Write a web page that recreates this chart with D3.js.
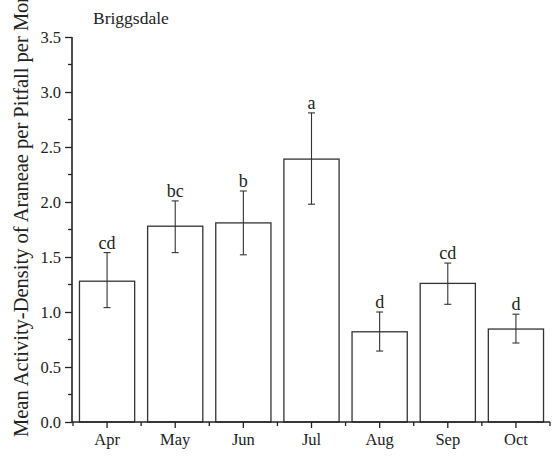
<!DOCTYPE html>
<html><head><meta charset="utf-8">
<script src="https://cdn.jsdelivr.net/npm/d3@7"></script>
<style>body{margin:0;background:#fff;}svg{display:block;}</style>
</head><body>
<script>
const months = ["Apr","May","Jun","Jul","Aug","Sep","Oct"];
const means  = [1.28, 1.78, 1.81, 2.39, 0.82, 1.26, 0.845];
const errLow = [1.04, 1.54, 1.52, 1.98, 0.645, 1.07, 0.718];
const errHigh= [1.54, 2.01, 2.10, 2.81, 1.00, 1.445, 0.98];
const letters= ["cd","bc","b","a","d","cd","d"];
const yTicks = [0,0.5,1.0,1.5,2.0,2.5,3.0,3.5];

const W=557,H=468;
const svg=d3.select("body").append("svg").attr("width",W).attr("height",H);
const font="'Liberation Serif','Times New Roman',serif";
const x=d3.scaleBand().domain(months).range([73,550]).paddingInner(0.19).paddingOuter(0.095);
const y=d3.scaleLinear().domain([0,3.5]).range([422,37]);
const ink="#222";

// bars
svg.selectAll("rect.bar").data(months).join("rect")
  .attr("x",d=>x(d)).attr("width",x.bandwidth())
  .attr("y",(d,i)=>y(means[i])).attr("height",(d,i)=>y(0)-y(means[i]))
  .attr("fill","#fff").attr("stroke","#333").attr("stroke-width",1.3);

// error bars
const cx=d=>x(d)+x.bandwidth()/2;
const g=svg.append("g").attr("stroke","#333").attr("stroke-width",1.1);
months.forEach((m,i)=>{
  g.append("line").attr("x1",cx(m)).attr("x2",cx(m)).attr("y1",y(errLow[i])).attr("y2",y(errHigh[i]));
  [errLow[i],errHigh[i]].forEach(v=>g.append("line").attr("x1",cx(m)-3.5).attr("x2",cx(m)+3.5).attr("y1",y(v)).attr("y2",y(v)));
});
svg.selectAll("text.let").data(months).join("text")
  .attr("x",cx).attr("y",(d,i)=>y(errHigh[i])-4).attr("text-anchor","middle")
  .attr("font-family",font).attr("font-size",18).attr("fill",ink).text((d,i)=>letters[i]);

// y axis
const yAxis=d3.axisLeft(y).tickValues(yTicks).tickFormat(d3.format(".1f")).tickSize(7).tickPadding(4);
const ya=svg.append("g").attr("transform","translate(72,0)").call(yAxis);
const minorY=d3.range(0.25,3.5,0.5);
ya.selectAll("line.minor").data(minorY).join("line").attr("class","minor")
  .attr("x1",-4).attr("x2",0).attr("y1",d=>y(d)).attr("y2",d=>y(d)).attr("stroke",ink).attr("stroke-width",1.3);
ya.select(".domain").attr("d",`M0,${y(0)+0.5}V${y(3.5)}`).attr("stroke",ink).attr("stroke-width",1.6);
ya.selectAll(".tick line").attr("stroke",ink).attr("stroke-width",1.3);
ya.selectAll(".tick text").attr("font-family",font).attr("font-size",16.5).attr("fill",ink);

// x axis
const xAxis=d3.axisBottom(x).tickSize(6).tickPadding(5);
const xa=svg.append("g").attr("transform",`translate(0,${y(0)})`).call(xAxis);
xa.select(".domain").attr("d",`M72,0H550`).attr("stroke",ink).attr("stroke-width",1.6);
xa.selectAll(".tick line").attr("stroke",ink).attr("stroke-width",1.3);
xa.selectAll(".tick text").attr("font-family",font).attr("font-size",16.5).attr("fill",ink);
const bounds=months.map(m=>x(m)-x.step()*x.paddingInner()/2).concat([550]);
xa.selectAll("line.minor").data(bounds).join("line").attr("class","minor")
  .attr("x1",d=>d).attr("x2",d=>d).attr("y1",0).attr("y2",4).attr("stroke",ink).attr("stroke-width",1.3);

// titles
svg.append("text").attr("x",93).attr("y",24).attr("font-family",font).attr("font-size",17.5).attr("fill",ink).text("Briggsdale");
svg.append("text").attr("transform","translate(28,437) rotate(-90)").attr("font-family",font).attr("font-size",20.5).attr("fill",ink)
  .text("Mean Activity-Density of Araneae per Pitfall per Month");
</script>
</body></html>
